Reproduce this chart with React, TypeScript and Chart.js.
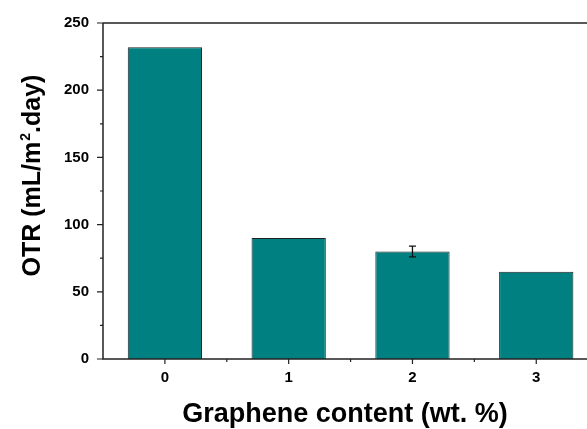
import React, { useEffect, useRef } from "react";
import { Chart, registerables } from "chart.js";

Chart.register(...registerables);

const categories = [0, 1, 2, 3];
const otrValues = [232, 90, 80, 65];
const otrErrors = [0, 0, 4, 0];
const yMajorTicks = [0, 50, 100, 150, 200, 250];
const yMinorTicks = [25, 75, 125, 175, 225];
const xMajorTicks = [0, 1, 2, 3];
const xMinorTicks = [0.5, 1.5, 2.5];
const xTitle = "Graphene content (wt. %)";
const yTitleParts = ["OTR (mL/m", "2", ".day)"];

const FONT = "'Liberation Sans', Arial, sans-serif";

const decorPlugin = {
  id: "decor",
  afterDatasetsDraw(chart: any) {
    const { ctx, chartArea, scales } = chart;
    const xs = scales.x;
    const ys = scales.y;
    ctx.save();
    // error bars
    ctx.strokeStyle = "#111";
    ctx.lineWidth = 1.3;
    categories.forEach((c, i) => {
      const e = otrErrors[i];
      if (!e) return;
      const px = xs.getPixelForValue(c);
      const yHi = ys.getPixelForValue(otrValues[i] + e);
      const yLo = ys.getPixelForValue(otrValues[i] - e);
      ctx.beginPath();
      ctx.moveTo(px, yHi);
      ctx.lineTo(px, yLo);
      ctx.moveTo(px - 3.5, yHi);
      ctx.lineTo(px + 3.5, yHi);
      ctx.moveTo(px - 3.5, yLo);
      ctx.lineTo(px + 3.5, yLo);
      ctx.stroke();
    });
    // axes frame
    ctx.strokeStyle = "#222";
    ctx.lineWidth = 1.5;
    ctx.beginPath();
    ctx.moveTo(chartArea.left, chartArea.top);
    ctx.lineTo(chartArea.right, chartArea.top);
    ctx.moveTo(chartArea.left, chartArea.top);
    ctx.lineTo(chartArea.left, chartArea.bottom);
    ctx.lineTo(chartArea.right, chartArea.bottom);
    ctx.stroke();
    // tick marks
    ctx.lineWidth = 1.2;
    ctx.beginPath();
    yMajorTicks.forEach((v) => {
      const py = ys.getPixelForValue(v);
      ctx.moveTo(chartArea.left - 6, py);
      ctx.lineTo(chartArea.left, py);
    });
    yMinorTicks.forEach((v) => {
      const py = ys.getPixelForValue(v);
      ctx.moveTo(chartArea.left - 3, py);
      ctx.lineTo(chartArea.left, py);
    });
    xMajorTicks.forEach((v) => {
      const px = xs.getPixelForValue(v);
      ctx.moveTo(px, chartArea.bottom);
      ctx.lineTo(px, chartArea.bottom + 5);
    });
    xMinorTicks.forEach((v) => {
      const px = xs.getPixelForValue(v);
      ctx.moveTo(px, chartArea.bottom);
      ctx.lineTo(px, chartArea.bottom + 3);
    });
    ctx.stroke();
    // y title with superscript
    const mainFont = `bold 25px ${FONT}`;
    const supFont = `bold 14px ${FONT}`;
    ctx.font = mainFont;
    const w0 = ctx.measureText(yTitleParts[0]).width;
    const w2 = ctx.measureText(yTitleParts[2]).width;
    ctx.font = supFont;
    const w1 = ctx.measureText(yTitleParts[1]).width;
    const total = w0 + w1 + w2;
    const cy = (ys.getPixelForValue(250) + ys.getPixelForValue(0)) / 2 - 15;
    ctx.translate(40, cy);
    ctx.rotate(-Math.PI / 2);
    ctx.fillStyle = "#000";
    ctx.textAlign = "left";
    ctx.textBaseline = "alphabetic";
    let x0 = -total / 2;
    ctx.font = mainFont;
    ctx.fillText(yTitleParts[0], x0, 0);
    x0 += w0;
    ctx.font = supFont;
    ctx.fillText(yTitleParts[1], x0 + 1, -10);
    x0 += w1 + 1;
    ctx.font = mainFont;
    ctx.fillText(yTitleParts[2], x0, 0);
    ctx.restore();
  },
};

export default function App() {
  const ref = useRef<HTMLCanvasElement>(null);
  useEffect(() => {
    if (!ref.current) return;
    const chart = new Chart(ref.current, {
      type: "bar",
      data: {
        datasets: [
          {
            data: categories.map((c, i) => ({ x: c, y: otrValues[i] })),
            backgroundColor: "#008080",
            borderColor: "#222",
            borderWidth: 1,
            barPercentage: 0.6,
            categoryPercentage: 1,
          },
        ],
      },
      options: {
        animation: false,
        responsive: false,
        devicePixelRatio: 1,
        layout: { padding: { top: 23, right: 0, left: 0, bottom: 0 } },
        plugins: { legend: { display: false }, tooltip: { enabled: false } },
        scales: {
          x: {
            type: "linear",
            min: -0.5,
            max: 3.41,
            offset: false,
            grid: { display: false, offset: false },
            border: { display: false },
            afterBuildTicks: (s: any) => {
              s.ticks = xMajorTicks.map((v) => ({ value: v }));
            },
            afterFit: (s: any) => {
              s.height = 70;
            },
            ticks: {
              padding: 2,
              color: "#000",
              font: { family: FONT, size: 15, weight: "bold" },
              callback: (v: any) => String(v),
              maxRotation: 0,
            },
            title: {
              display: true,
              text: xTitle,
              color: "#000",
              font: { family: FONT, size: 27, weight: "bold", lineHeight: 1.05 },
              padding: { top: 0, bottom: 0 },
            },
          },
          y: {
            min: 0,
            max: 250,
            grid: { display: false },
            border: { display: false },
            afterBuildTicks: (s: any) => {
              s.ticks = yMajorTicks.map((v) => ({ value: v }));
            },
            afterFit: (s: any) => {
              s.width = 103;
            },
            ticks: {
              padding: 6,
              color: "#000",
              font: { family: FONT, size: 15, weight: "bold" },
            },
          },
        },
      },
      plugins: [decorPlugin],
    } as any);
    return () => chart.destroy();
  }, []);
  return (
    <div style={{ position: "absolute", left: 0, top: 0, width: 587, height: 429, background: "#fff" }}>
      <canvas ref={ref} width={587} height={429} style={{ width: 587, height: 429, display: "block" }} />
    </div>
  );
}
